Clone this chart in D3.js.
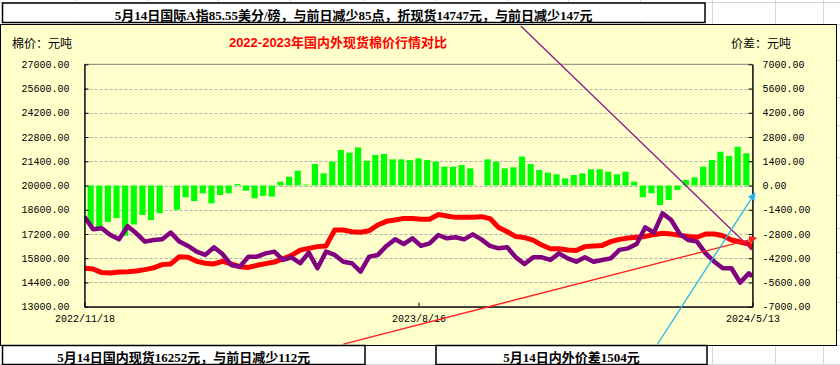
<!DOCTYPE html>
<html><head><meta charset="utf-8">
<script src="https://cdn.jsdelivr.net/npm/d3@7"></script>
<style>body{margin:0;background:#fff;}svg{display:block}</style>
</head><body><svg id="c" width="840" height="365"></svg>
<script>
// ---- data (weekly readings) ----
const dates = ["2022-11-18","2022-11-25","2022-12-02","2022-12-09","2022-12-16","2022-12-23","2022-12-30","2023-01-06","2023-01-13","2023-01-20",
"2023-01-27","2023-02-03","2023-02-10","2023-02-17","2023-02-24","2023-03-03","2023-03-10","2023-03-17","2023-03-24","2023-03-31",
"2023-04-07","2023-04-14","2023-04-21","2023-04-28","2023-05-05","2023-05-12","2023-05-19","2023-05-26","2023-06-02","2023-06-09",
"2023-06-16","2023-06-23","2023-06-30","2023-07-07","2023-07-14","2023-07-21","2023-07-28","2023-08-04","2023-08-11","2023-08-18",
"2023-08-25","2023-09-01","2023-09-08","2023-09-15","2023-09-22","2023-09-29","2023-10-06","2023-10-13","2023-10-20","2023-10-27",
"2023-11-03","2023-11-10","2023-11-17","2023-11-24","2023-12-01","2023-12-08","2023-12-15","2023-12-22","2023-12-29","2024-01-05",
"2024-01-12","2024-01-19","2024-01-26","2024-02-02","2024-02-09","2024-02-16","2024-02-23","2024-03-01","2024-03-08","2024-03-15",
"2024-03-22","2024-03-29","2024-04-05","2024-04-12","2024-04-19","2024-04-26","2024-05-03","2024-05-10","2024-05-13"];

const domestic = [15220,15180,14970,14950,15010,15020,15060,15140,15240,15430,
15470,15890,15850,15620,15510,15470,15620,15470,15310,15270,
15390,15490,15580,15760,15970,16270,16370,16470,16510,17430,
17430,17330,17300,17390,17720,17930,18010,18100,18090,18050,
18050,18320,18240,18160,18160,18160,18200,18090,17580,17330,
17050,16990,16850,16560,16350,16350,16270,16240,16470,16510,
16540,16760,16890,16970,17010,17060,17160,17240,17200,17120,
17050,17010,17200,17200,17100,16850,16740,16620,16350];

const international = [18200,17470,17530,17140,16890,17650,17240,16760,16850,16890,
17280,16760,16510,16180,15990,16430,16040,15410,15310,15890,
15890,16080,16180,15700,15850,15510,16120,15220,16180,15990,
15600,15510,15020,15890,15990,16510,16890,16620,16950,16510,
16660,17140,16950,17010,16890,17180,16890,16510,16370,16430,
15850,15470,15850,15850,15700,16080,15790,15600,15850,15600,
15700,15790,16280,16370,16620,17580,17280,18390,18010,17200,
16850,16760,16080,15600,15220,15220,14390,14930,14750];

const spread = [-2820,-2300,-2550,-2100,-1880,-2900,-2250,-1700,-2000,-1600,
null,-1400,-680,-900,-450,-1030,-550,-450,80,-300,
-740,-600,-640,220,500,860,50,1240,700,1380,
2050,1900,2200,1430,1760,1820,1510,1510,1470,1570,
1470,1380,1090,1090,1180,990,null,1510,1380,990,
1050,1665,1240,895,740,645,415,605,700,935,
935,800,645,800,220,-680,-450,-1130,-840,-260,
320,470,1090,1470,1950,1700,2240,1860,1504];

const leftTicks = [13000,14400,15800,17200,18600,20000,21400,22800,24200,25600,27000];
const rightTicks = [-7000,-5600,-4200,-2800,-1400,0,1400,2800,4200,5600,7000];
const xTickDates = ["2022-11-18","2023-08-16","2024-05-13"];
const xTickLabels = ["2022/11/18","2023/8/16","2024/5/13"];

const titleText = "2022-2023年国内外现货棉价行情对比";
const leftUnit = "棉价：元吨";
const rightUnit = "价差：元吨";
const topNote = "5月14日国际A指85.55美分/磅，与前日减少85点，折现货14747元，与前日减少147元";
const bottomNote1 = "5月14日国内现货16252元，与前日减少112元";
const bottomNote2 = "5月14日内外价差1504元";

// annotation connector lines, in (date, left-axis value) coordinates
const annotations = [
  {from:["2023-11-07",29212], to:["2024-05-13",16274], color:"#8B1A8B", arrow:false},
  {from:["2023-06-16",10845], to:["2024-05-16",16967], color:"#FF2020", arrow:true},
  {from:["2024-02-26",10845], to:["2024-05-15",19566], color:"#1EB4F0", arrow:true}
];

// ---- drawing ----
const parse = d3.timeParse("%Y-%m-%d");
const svg = d3.select("#c");
const L = 84.5, R = 752.5, T = 64.3, B = 306.7;

const x = d3.scaleTime().domain([parse("2022-11-18"), parse("2024-05-13")]).range([L, R]);
const yL = d3.scaleLinear().domain([13000, 27000]).range([B, T]);
const yR = d3.scaleLinear().domain([-7000, 7000]).range([B, T]);

const CJK = "'Noto Sans CJK SC','Noto Sans',sans-serif";
const SERIF = "'Liberation Serif','Noto Sans CJK SC',serif";
const MONO = "'Liberation Mono','DejaVu Sans Mono',monospace";

// Excel sheet grid background
const grid = svg.append("g").attr("stroke", "#D6D6D6").attr("stroke-width", 1);
[75,147,218,290,363,435,507,568,640,712,775,823].forEach(v =>
  grid.append("line").attr("x1", v + 0.5).attr("x2", v + 0.5).attr("y1", 0).attr("y2", 365));
[2.5,24.5,60.5,97.5,125.5,157.5,195.5,228.5,252.5,277.5,302.5,330.5,345.5,364.5].forEach(v =>
  grid.append("line").attr("x1", 0).attr("x2", 840).attr("y1", v).attr("y2", v));

// chart area
svg.append("rect").attr("x", 0.5).attr("y", 24.5).attr("width", 836).attr("height", 321)
  .attr("fill", "#FFFFCC").attr("stroke", "#000").attr("stroke-width", 1);

// plot border (top grey)
svg.append("rect").attr("x", L).attr("y", T).attr("width", R - L).attr("height", B - T)
  .attr("fill", "none").attr("stroke", "#808080").attr("stroke-width", 1);

// dashed gridlines
svg.append("g").selectAll("line").data(leftTicks.slice(1, -1)).join("line")
  .attr("x1", L).attr("x2", R).attr("y1", d => Math.round(yL(d)) + 0.5).attr("y2", d => Math.round(yL(d)) + 0.5)
  .attr("stroke", "#B0B0B0").attr("stroke-width", 1).attr("stroke-dasharray", "3,2");

// clip
svg.append("clipPath").attr("id", "plotclip").append("rect")
  .attr("x", L).attr("y", T).attr("width", R - L).attr("height", B - T);

const rows = dates.map((d, i) => ({date: parse(d), dom: domestic[i], intl: international[i], spr: spread[i]}));

// spread bars: one block per trading week (Mon..date)
const halfDay = (x(parse("2022-11-19")) - x(parse("2022-11-18"))) / 2;
svg.append("g").attr("clip-path", "url(#plotclip)").selectAll("rect")
  .data(rows.filter(r => r.spr !== null)).join("rect")
  .attr("x", r => x(d3.timeMonday.floor(r.date)) - halfDay)
  .attr("width", r => x(r.date) - x(d3.timeMonday.floor(r.date)) + 2 * halfDay)
  .attr("y", r => Math.min(yR(0), yR(r.spr)))
  .attr("height", r => Math.abs(yR(r.spr) - yR(0)))
  .attr("fill", "#00FF00");

// lines
const gl = svg.append("g").attr("clip-path", "url(#plotclip)");
gl.append("path").datum(rows)
  .attr("d", d3.line().x(r => x(r.date)).y(r => yL(r.dom)))
  .attr("fill", "none").attr("stroke", "#FF0000").attr("stroke-width", 5).attr("stroke-linejoin", "round");
gl.append("path").datum(rows)
  .attr("d", d3.line().x(r => x(r.date)).y(r => yL(r.intl)))
  .attr("fill", "none").attr("stroke", "#800080").attr("stroke-width", 4.5).attr("stroke-linejoin", "round");

// axes
const fmt = d => d.toFixed(2);
const axL = svg.append("g").attr("transform", `translate(${L},0)`)
  .call(d3.axisLeft(yL).tickValues(leftTicks).tickFormat(fmt).tickSize(-4).tickSizeOuter(0).tickPadding(15));
const axR = svg.append("g").attr("transform", `translate(${R},0)`)
  .call(d3.axisRight(yR).tickValues(rightTicks).tickFormat(fmt).tickSize(-4).tickSizeOuter(0).tickPadding(10));
const axB = svg.append("g").attr("transform", `translate(0,${B})`)
  .call(d3.axisBottom(x).tickValues(xTickDates.map(parse)).tickFormat((d, i) => xTickLabels[i]).tickSize(-4).tickSizeOuter(0).tickPadding(8));
[axL, axR, axB].forEach(a => {
  a.select(".domain").attr("stroke", "#000").attr("stroke-width", 1.3);
  a.selectAll(".tick line").attr("stroke", "#000");
  a.selectAll("text").attr("font-family", MONO).attr("font-size", "10px").attr("fill", "#000");
});

// annotation connectors
const defs = svg.append("defs");
annotations.forEach((a, i) => {
  if (a.arrow) {
    defs.append("marker").attr("id", "arr" + i).attr("viewBox", "0 0 10 10").attr("refX", 9).attr("refY", 5)
      .attr("markerWidth", 6).attr("markerHeight", 6).attr("orient", "auto")
      .append("path").attr("d", "M0,0L10,5L0,10z").attr("fill", a.color);
  }
  svg.append("line")
    .attr("x1", x(parse(a.from[0]))).attr("y1", yL(a.from[1]))
    .attr("x2", x(parse(a.to[0]))).attr("y2", yL(a.to[1]))
    .attr("stroke", a.color).attr("stroke-width", 1.3)
    .attr("marker-end", a.arrow ? `url(#arr${i})` : null);
});

// texts
svg.append("text").attr("x", 338).attr("y", 42).attr("text-anchor", "middle").attr("dominant-baseline", "central")
  .attr("font-family", "'Liberation Sans'," + CJK).attr("font-weight", "bold").attr("font-size", "13px")
  .attr("fill", "#FF0000").text(titleText);
svg.append("text").attr("x", 12).attr("y", 42).attr("dominant-baseline", "central")
  .attr("font-family", CJK).attr("font-size", "12px").attr("fill", "#000").text(leftUnit);
svg.append("text").attr("x", 731).attr("y", 42).attr("dominant-baseline", "central")
  .attr("font-family", CJK).attr("font-size", "12px").attr("fill", "#000").text(rightUnit);

// note boxes
function box(x0, y0, w, h, txt, cy) {
  svg.append("rect").attr("x", x0).attr("y", y0).attr("width", w).attr("height", h)
    .attr("fill", "#fff").attr("stroke", "#000").attr("stroke-width", 1.5);
  svg.append("text").attr("x", x0 + w / 2).attr("y", cy).attr("text-anchor", "middle").attr("dominant-baseline", "central")
    .attr("font-family", SERIF).attr("font-weight", "bold").attr("font-size", "13px").attr("fill", "#000").text(txt);
}
box(2.5, 3, 702.5, 19.5, topNote, 15.5);
box(2.5, 345.5, 362.5, 19, bottomNote1, 357);
box(436, 345.5, 271, 19, bottomNote2, 357);
</script></body></html>
